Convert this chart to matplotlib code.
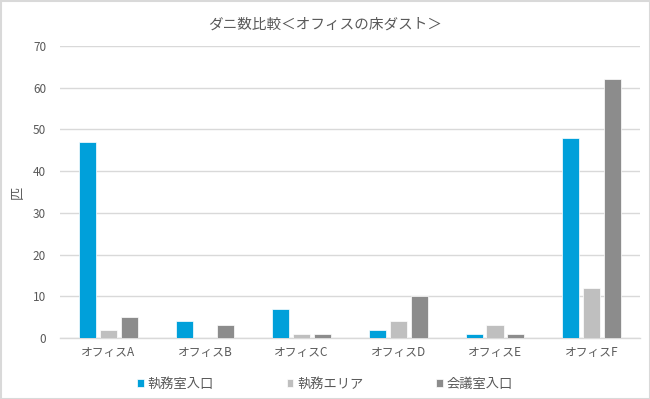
import numpy as np
import matplotlib.pyplot as plt
from matplotlib.patches import Rectangle

plt.rcParams['font.family'] = ['Noto Sans CJK JP', 'DejaVu Sans']

offices = ["オフィスA", "オフィスB", "オフィスC", "オフィスD", "オフィスE", "オフィスF"]
series_names = ["執務室入口", "執務エリア", "会議室入口"]
office_entrance = [47, 4, 7, 2, 1, 48]
office_area = [2, 0, 1, 4, 3, 12]
meeting_entrance = [5, 3, 1, 10, 1, 62]
colors = ["#00A0DA", "#BFBFBF", "#8C8C8C"]

text_color = "#595959"
grid_color = "#D9D9D9"

fig = plt.figure(figsize=(6.5, 3.99), dpi=100)
ax = fig.add_axes([60 / 650, 1 - 338 / 399, 580 / 650, 292 / 399])

x = np.arange(len(offices))
bar_w = 0.176
step = 0.217
for i, (vals, name) in enumerate(zip([office_entrance, office_area, meeting_entrance], series_names)):
    ax.bar(x + (i - 1) * step, vals, width=bar_w, color=colors[i], label=name,
           edgecolor="white", linewidth=0.5, zorder=3)

ax.set_xlim(-0.5, len(offices) - 0.5)
ax.set_ylim(0, 70)
ax.set_yticks(range(0, 71, 10))
ax.set_xticks(x)
ax.set_xticklabels(offices)
ax.yaxis.grid(True, color=grid_color, linewidth=1, zorder=0)
for s in ["top", "right", "left"]:
    ax.spines[s].set_visible(False)
ax.spines["bottom"].set_color(grid_color)
ax.spines["bottom"].set_linewidth(1)
ax.tick_params(axis="both", length=0, colors=text_color, labelsize=8.5)
ax.tick_params(axis="y", pad=10)
ax.tick_params(axis="x", pad=6)

ax.set_ylabel("匹", color=text_color, fontsize=9.5, labelpad=6)
fig.suptitle("ダニ数比較＜オフィスの床ダスト＞", color=text_color, fontsize=10.5, y=0.955)

fig.legend(loc="center", bbox_to_anchor=(0.5, 1 - 384 / 399), ncol=3, frameon=False,
           fontsize=9.5, handlelength=0.5, handleheight=0.5, handletextpad=0.3,
           columnspacing=5.5, labelcolor=text_color)

# outer border
fig.patches.append(Rectangle((0.5 / 650, 0.5 / 399), 1 - 1 / 650, 1 - 1 / 399,
                             transform=fig.transFigure, fill=False,
                             edgecolor=grid_color, linewidth=1.5))

fig.savefig("out.png", dpi=100, facecolor="white")
